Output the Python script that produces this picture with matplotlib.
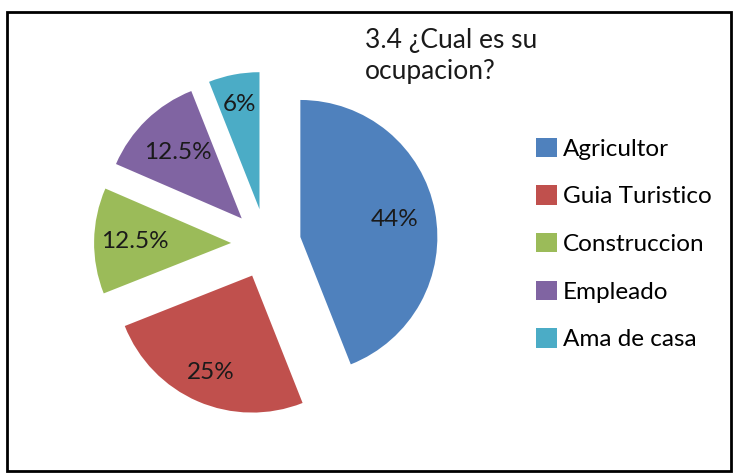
import matplotlib
matplotlib.use("Agg")
import numpy as np
from matplotlib import pyplot as plt
from matplotlib.patches import Rectangle

categories = ["Agricultor", "Guia Turistico", "Construccion", "Empleado", "Ama de casa"]
values = [44, 25, 12.5, 12.5, 6]
pct_labels = ["44%", "25%", "12.5%", "12.5%", "6%"]
colors = ["#4F81BD", "#C0504D", "#9BBB59", "#8064A2", "#4BACC6"]
title = "3.4 ¿Cual es su\nocupacion?"

# label distance from each (exploded) slice centre, as a fraction of radius
label_dist = [0.70, 0.77, 0.70, 0.67, 0.78]

plt.rcParams['font.family'] = ['Lato', 'DejaVu Sans']

fig = plt.figure(figsize=(7.34, 4.74), dpi=100)

# outer chart border
fig.patches.append(Rectangle((0.009, 0.006), 0.987, 0.968, transform=fig.transFigure,
                             fill=False, edgecolor="black", linewidth=2))

ax = fig.add_axes([0.1172, 0.1065, 0.4905, 0.7595])

label_iter = iter(pct_labels)
wedges, texts, autotexts = ax.pie(values, colors=colors, startangle=90, counterclock=False,
                                  explode=[0.255] * len(values), radius=1,
                                  autopct=lambda p: next(label_iter),
                                  wedgeprops=dict(linewidth=0),
                                  textprops=dict(fontsize=17.5, color="#1a1a1a"))

# move labels to roughly where Excel's best fit put them
for w, t, dist in zip(wedges, autotexts, label_dist):
    th = np.deg2rad((w.theta1 + w.theta2) / 2)
    cx, cy = w.center
    t.set_position((cx + dist * w.r * np.cos(th), cy + dist * w.r * np.sin(th)))

R = 180 / 137
ax.set_xlim(-R, R)
ax.set_ylim(-R, R)
ax.set_aspect("equal")
ax.axis("off")

fig.text(0.497, 0.94, title, fontsize=19, color="#1a1a1a", va="top", ha="left",
         linespacing=1.3)

fig.legend(wedges, categories, loc="upper left", bbox_to_anchor=(0.717, 0.73),
           frameon=False, fontsize=17.5, handlelength=0.85, handleheight=0.85,
           labelspacing=1.05, handletextpad=0.25, borderaxespad=0)

fig.savefig("out.png", dpi=100)
